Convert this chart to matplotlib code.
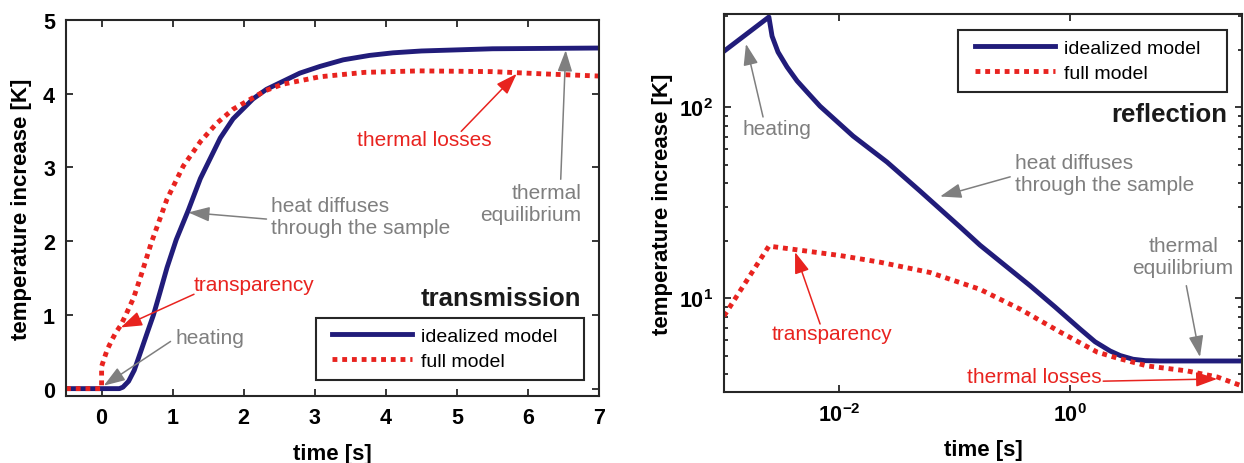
import numpy as np
import matplotlib
matplotlib.use('Agg')
import matplotlib.pyplot as plt
from matplotlib.patches import Rectangle
from matplotlib.ticker import FixedLocator, LogLocator, NullFormatter

# ── data ─────────────────────────────────────────────────────
# transmission (linear axes)
trans_t_ideal = [-0.5, 0.0, 0.25, 0.30, 0.38, 0.46, 0.55, 0.65, 0.73, 0.82, 0.92, 1.05,
                 1.22, 1.39, 1.67, 1.85, 2.13, 2.32, 2.79, 3.07, 3.40, 3.77, 4.10,
                 4.5, 5.5, 7.0]
trans_T_ideal = [0.0, 0.0, 0.0, 0.02, 0.10, 0.25, 0.50, 0.78, 1.00, 1.30, 1.64, 2.02,
                 2.42, 2.85, 3.40, 3.66, 3.93, 4.06, 4.28, 4.37, 4.46, 4.52, 4.555,
                 4.58, 4.61, 4.62]

trans_t_full = [-0.5, 0.0, 0.0, 0.03, 0.08, 0.15, 0.20, 0.27, 0.35, 0.45, 0.55, 0.70,
                0.92, 1.15, 1.39, 1.62, 1.85, 2.30, 2.55, 3.07, 3.70, 4.47, 5.5, 6.2, 7.0]
trans_T_full = [0.0, 0.0, 0.30, 0.39, 0.53, 0.67, 0.76, 0.86, 1.02, 1.23, 1.52, 1.98,
                2.57, 3.02, 3.35, 3.60, 3.79, 4.04, 4.13, 4.23, 4.29, 4.31, 4.30, 4.27, 4.24]

# reflection (log-log axes)
refl_t_ideal = [1.0e-3, 2.45e-3, 2.61e-3, 2.94e-3, 3.52e-3, 4.30e-3, 5.24e-3, 6.80e-3,
                1.315e-2, 2.59e-2, 5.01e-2, 0.111, 0.166, 0.451, 0.743, 1.22, 1.65,
                2.23, 2.72, 3.52, 4.5, 6.04, 31.1]
refl_T_ideal = [196, 296, 235, 194, 162, 137, 120, 101,
                70.5, 51.5, 36.3, 23.6, 18.9, 11.6, 8.97, 6.89, 5.90,
                5.28, 5.00, 4.78, 4.70, 4.68, 4.68]

refl_t_full = [1.0e-3, 2.45e-3, 1.01e-2, 2.25e-2, 6.12e-2, 0.166, 0.369, 0.820,
               1.72, 2.56, 4.67, 10.4, 18.9, 31.1]
refl_T_full = [8.05, 18.7, 16.7, 15.4, 13.6, 11.1, 8.75, 6.64,
               5.21, 4.85, 4.41, 4.15, 3.86, 3.46]

series_labels = ['idealized model', 'full model']
trans_xticks = [0, 1, 2, 3, 4, 5, 6, 7]
trans_yticks = [0, 1, 2, 3, 4, 5]
refl_xticks = [1e-2, 1e0]
refl_xticklabels = [r'$\mathbf{10^{-2}}$', r'$\mathbf{10^{0}}$']
refl_yticks = [1e1, 1e2]
refl_yticklabels = [r'$\mathbf{10^{1}}$', r'$\mathbf{10^{2}}$']

# ── style ────────────────────────────────────────────────────
plt.rcParams['font.family'] = ['Liberation Sans', 'DejaVu Sans']
plt.rcParams['mathtext.fontset'] = 'custom'
plt.rcParams['mathtext.rm'] = 'Liberation Sans:bold'
plt.rcParams['mathtext.bf'] = 'Liberation Sans:bold'

NAVY = '#211c7a'
RED = '#e8231f'
GREY = '#7f7f7f'
AXC = '#262626'
DOTS = (0, (1, 1.0))


def style_axes(ax):
    for sp in ax.spines.values():
        sp.set_color(AXC)
        sp.set_linewidth(1.5)
    ax.tick_params(which='both', direction='in', top=True, right=True,
                   color=AXC, width=1.3, labelsize=15.5, pad=8)
    ax.tick_params(which='major', length=5)
    ax.tick_params(which='minor', length=3)
    for lab in ax.get_xticklabels() + ax.get_yticklabels():
        lab.set_fontweight('bold')


def boxed_legend(ax, frame, handle_anchor):
    # MATLAB-like legend: wide box with the entries packed to the left
    x0, y0, x1, y1 = frame
    ax.add_patch(Rectangle((x0, y0), x1 - x0, y1 - y0, transform=ax.transAxes,
                           facecolor='white', edgecolor=AXC, lw=1.5, zorder=4))
    leg = ax.legend(loc='center left', bbox_to_anchor=handle_anchor, fontsize=14,
                    handlelength=4.1, handletextpad=0.45, borderpad=0,
                    borderaxespad=0, labelspacing=0.4, frameon=False)
    leg.set_zorder(5)


def note(ax, text, xy_text, tail, tip, color, ha='left'):
    ax.text(xy_text[0], xy_text[1], text, color=color, fontsize=15,
            ha=ha, va='center', multialignment=ha)
    ax.annotate('', xy=tip, xytext=tail,
                arrowprops=dict(arrowstyle='-|>,head_length=1.3,head_width=0.45',
                                color=color, lw=1.1, mutation_scale=10,
                                shrinkA=0, shrinkB=0))


fig = plt.figure(figsize=(12.44, 4.64), dpi=100)
ax1 = fig.add_axes([0.0531, 0.1444, 0.4285, 0.8103])
ax2 = fig.add_axes([0.582, 0.153, 0.4164, 0.8147])

# ── transmission ─────────────────────────────────────────────
ax1.plot(trans_t_ideal, trans_T_ideal, color=NAVY, lw=3.5, label=series_labels[0])
ax1.plot(trans_t_full, trans_T_full, color=RED, lw=3.5, ls=DOTS,
         dash_capstyle='butt', label=series_labels[1])
ax1.set_xlim(-0.5, 7)
ax1.set_ylim(-0.1, 5)
ax1.set_xticks(trans_xticks)
ax1.set_yticks(trans_yticks)
ax1.set_xlabel('time [s]', fontsize=16, fontweight='bold', labelpad=10.5)
ax1.set_ylabel('temperature increase [K]', fontsize=16, fontweight='bold', labelpad=8)
style_axes(ax1)
boxed_legend(ax1, (0.469, 0.0426, 0.972, 0.2074), (0.499, 0.126))

ax1.text(6.75, 1.14, 'transmission', fontsize=18.5, fontweight='bold',
         ha='right', va='baseline', color='#1a1a1a')
note(ax1, 'heat diffuses\nthrough the sample', (2.39, 2.34), (2.32, 2.30), (1.22, 2.39), GREY)
note(ax1, 'thermal\nequilibrium', (6.75, 2.51), (6.46, 2.84), (6.53, 4.59), GREY, ha='right')
note(ax1, 'thermal losses', (4.54, 3.38), (5.06, 3.49), (5.84, 4.27), RED, ha='center')
note(ax1, 'transparency', (1.30, 1.41), (1.30, 1.28), (0.27, 0.83), RED)
note(ax1, 'heating', (1.04, 0.69), (0.97, 0.64), (0.03, 0.04), GREY)

# ── reflection ───────────────────────────────────────────────
ax2.plot(refl_t_ideal, refl_T_ideal, color=NAVY, lw=3.5, label=series_labels[0])
ax2.plot(refl_t_full, refl_T_full, color=RED, lw=3.5, ls=DOTS,
         dash_capstyle='butt', label=series_labels[1])
ax2.set_xscale('log')
ax2.set_yscale('log')
ax2.set_xlim(1e-3, 31)
ax2.set_ylim(3.22, 307)
ax2.xaxis.set_major_locator(FixedLocator(refl_xticks))
ax2.xaxis.set_minor_locator(FixedLocator([]))
ax2.set_xticklabels(refl_xticklabels)
ax2.yaxis.set_major_locator(FixedLocator(refl_yticks))
ax2.yaxis.set_minor_locator(LogLocator(base=10, subs=np.arange(2, 10)))
ax2.yaxis.set_minor_formatter(NullFormatter())
ax2.set_yticklabels(refl_yticklabels)
ax2.set_xlabel('time [s]', fontsize=16, fontweight='bold', labelpad=9.5)
ax2.set_ylabel('temperature increase [K]', fontsize=16, fontweight='bold', labelpad=4)
style_axes(ax2)
boxed_legend(ax2, (0.4517, 0.7937, 0.971, 0.9577), (0.4846, 0.877))

ax2.text(23.0, 84.5, 'reflection', fontsize=18.5, fontweight='bold',
         ha='right', va='baseline', color='#1a1a1a')
note(ax2, 'heating', (0.00146, 76.8), (0.00218, 88.7), (0.00155, 214), GREY)
note(ax2, 'heat diffuses\nthrough the sample', (0.334, 44.6), (0.303, 43.1), (0.0747, 34.0), GREY)
note(ax2, 'thermal\nequilibrium', (9.57, 16.5), (10.2, 11.6), (13.4, 4.91), GREY, ha='center')
note(ax2, 'transparency', (0.00261, 6.49), (0.00681, 7.31), (0.00413, 17.4), RED)
note(ax2, 'thermal losses', (0.493, 3.86), (1.94, 3.67), (18.9, 3.77), RED, ha='center')

fig.savefig('out.png', dpi=100)
